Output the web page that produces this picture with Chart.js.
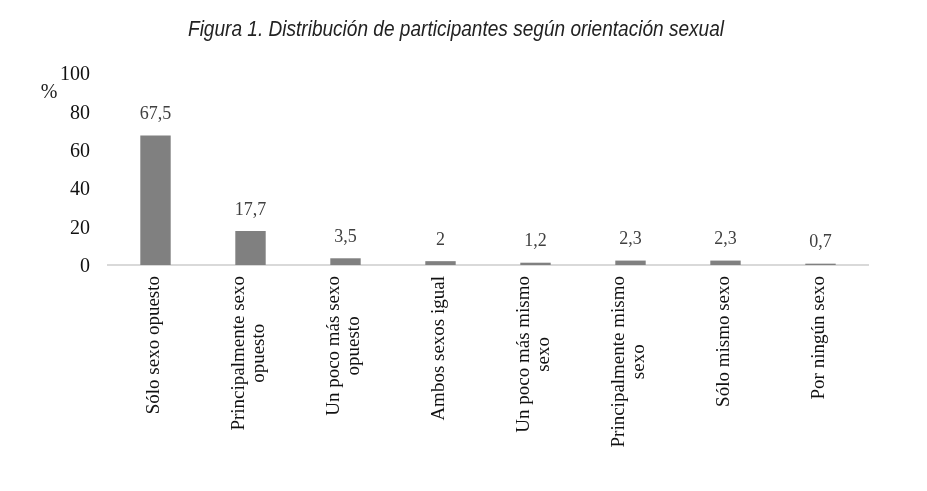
<!DOCTYPE html>
<html>
<head>
<meta charset="utf-8">
<script src="https://cdn.jsdelivr.net/npm/chart.js@4/dist/chart.umd.min.js"></script>
<style>
  html, body { margin: 0; padding: 0; background: #fff; }
  #wrap { width: 927px; height: 491px; }
</style>
</head>
<body>
<div id="wrap"><canvas id="chart"></canvas></div>
<script>
const categories = [
  ["Sólo sexo opuesto"],
  ["Principalmente sexo", "opuesto"],
  ["Un poco más sexo", "opuesto"],
  ["Ambos sexos igual"],
  ["Un poco más mismo", "sexo"],
  ["Principalmente mismo", "sexo"],
  ["Sólo mismo sexo"],
  ["Por ningún sexo"],
];
const percentages = [67.5, 17.7, 3.5, 2, 1.2, 2.3, 2.3, 0.7];
const yTicks = [0, 20, 40, 60, 80, 100];
const titleText = "Figura 1. Distribución de participantes según orientación sexual";

const serif = "'Liberation Serif', 'Times New Roman', serif";

// title, "%", value labels and the rotated category labels drawn by hand
const extras = {
  id: "extras",
  afterDatasetsDraw: (chart) => {
    const ctx = chart.ctx;
    ctx.save();

    // title: condensed italic, squeezed to the reference width
    ctx.fillStyle = "#222";
    ctx.font = "italic 22px 'Liberation Sans', Arial, sans-serif";
    ctx.textAlign = "center";
    ctx.textBaseline = "middle";
    const tw = ctx.measureText(titleText).width;
    ctx.save();
    ctx.translate(456, 30);
    ctx.scale(536 / tw, 1);
    ctx.fillText(titleText, 0, 0);
    ctx.restore();

    ctx.fillStyle = "#222";
    ctx.font = "20px " + serif;
    ctx.fillText("%", 49, 93);

    ctx.fillStyle = "#404040";
    ctx.font = "18px " + serif;
    const meta = chart.getDatasetMeta(0);
    meta.data.forEach((bar, i) => {
      const txt = String(percentages[i]).replace(".", ",");
      ctx.fillText(txt, bar.x, bar.y - 21);
    });

    // category labels, rotated, lines centred on each other
    const xs = chart.scales.x;
    ctx.fillStyle = "#111";
    ctx.font = "19px " + serif;
    const top = xs.top + 11;
    categories.forEach((lines, i) => {
      const x = xs.getPixelForValue(i) - 1;
      const maxW = Math.max(...lines.map((l) => ctx.measureText(l).width));
      ctx.save();
      ctx.translate(x, top);
      ctx.rotate(-Math.PI / 2);
      lines.forEach((l, j) => {
        ctx.fillText(l, -maxW / 2, (j - (lines.length - 1) / 2) * 20);
      });
      ctx.restore();
    });
    ctx.restore();
  },
};

new Chart(document.getElementById("chart"), {
  type: "bar",
  data: {
    labels: categories,
    datasets: [
      {
        data: percentages,
        backgroundColor: "#808080",
        barPercentage: 0.32,
        categoryPercentage: 1,
      },
    ],
  },
  options: {
    responsive: true,
    maintainAspectRatio: false,
    animation: false,
    layout: { padding: { left: 0, right: 59, top: 73, bottom: 0 } },
    plugins: {
      legend: { display: false },
      title: { display: false },
      tooltip: { enabled: false },
    },
    scales: {
      x: {
        grid: { display: false },
        border: { display: true, color: "#d9d9d9", width: 2 },
        ticks: { display: false },
        afterFit: (scale) => {
          scale.height = 226;
        },
      },
      y: {
        min: 0,
        max: 100,
        grid: { display: false },
        border: { display: false },
        afterBuildTicks: (scale) => {
          scale.ticks = yTicks.map((v) => ({ value: v }));
        },
        ticks: {
          color: "#111",
          font: { family: serif, size: 20 },
          padding: 10,
          labelOffset: 2,
        },
        afterFit: (scale) => {
          scale.width = 108;
        },
      },
    },
  },
  plugins: [extras],
});
</script>
</body>
</html>
